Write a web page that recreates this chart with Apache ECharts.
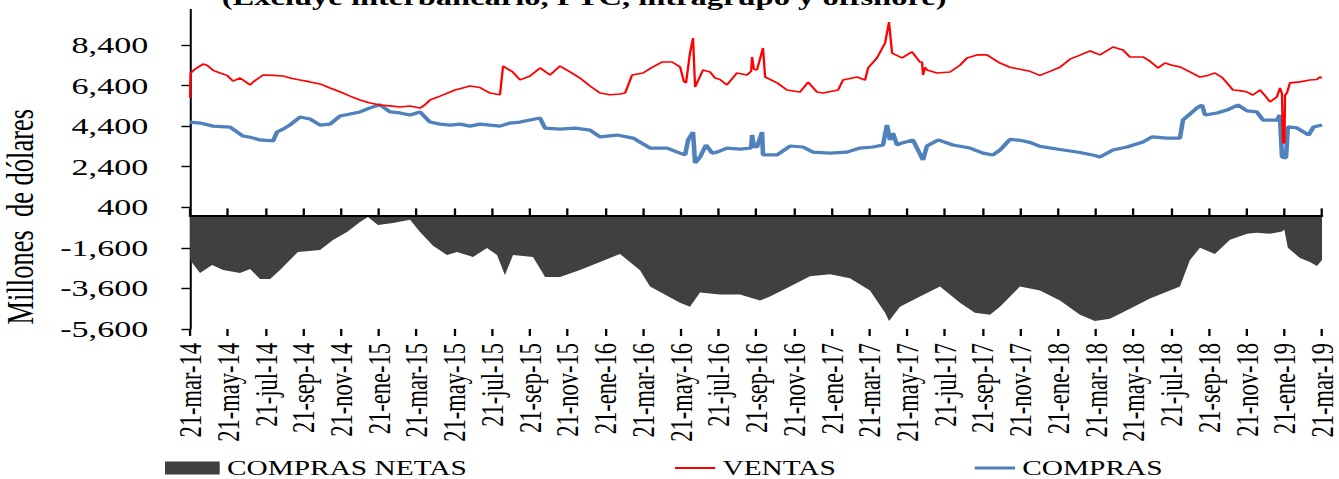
<!DOCTYPE html>
<html><head><meta charset="utf-8">
<script src="https://cdn.jsdelivr.net/npm/echarts@6/dist/echarts.min.js"></script>
<style>
html,body{margin:0;padding:0;background:#fff;overflow:hidden;}
#wrap{width:1339px;height:479px;overflow:hidden;position:relative;background:#fff;}
#chart{width:930px;height:479px;transform:scaleX(1.43978);transform-origin:0 0;}
</style></head><body>
<div id="wrap"><div id="chart"></div></div>
<script>
// ---- text ----
const titulo = '(Excluye interbancario, PTC, intragrupo y offshore)';
const ejeYNombre = 'Millones  de dólares';
const nombres = ['COMPRAS NETAS', 'VENTAS', 'COMPRAS'];
// x tick labels (every two months, x = months since 21-mar-14)
const etiquetasX = ['21-mar-14','21-may-14','21-jul-14','21-sep-14','21-nov-14','21-ene-15','21-mar-15','21-may-15','21-jul-15','21-sep-15','21-nov-15','21-ene-16','21-mar-16','21-may-16','21-jul-16','21-sep-16','21-nov-16','21-ene-17','21-mar-17','21-may-17','21-jul-17','21-sep-17','21-nov-17','21-ene-18','21-mar-18','21-may-18','21-jul-18','21-sep-18','21-nov-18','21-ene-19','21-mar-19'];
const yMin = -5600, yMax = 10400, yPaso = 2000;

// ---- data: [months since 21-mar-14, millions of USD] ----
const ventas = [[0,5800],[0.03,7020],[0.32,7250],[0.69,7460],[0.9,7400],[1.22,7150],[1.59,7020],[1.96,6900],[2.28,6620],[2.65,6770],[3.18,6430],[3.34,6570],[3.87,6920],[4.4,6900],[4.93,6870],[5.41,6750],[5.83,6670],[6.36,6580],[6.89,6480],[7.42,6280],[7.98,6080],[8.48,5880],[9.01,5690],[9.54,5540],[10.07,5440],[10.6,5400],[11.13,5340],[11.66,5390],[12.19,5290],[12.45,5450],[12.72,5690],[13.25,5880],[14.05,6180],[14.84,6380],[15.37,6300],[15.9,6030],[16.43,5950],[16.59,7360],[17.1,7070],[17.49,6680],[18.02,6870],[18.55,7270],[19.08,6920],[19.61,7360],[20.14,7070],[20.67,6770],[21.2,6380],[21.73,6030],[22.26,5950],[22.79,5985],[23.06,6030],[23.43,6920],[24.01,7020],[24.49,7300],[25.02,7560],[25.55,7560],[25.97,7320],[26.18,6600],[26.29,6530],[26.5,8000],[26.66,8740],[26.77,6330],[27.19,7170],[27.56,7070],[27.83,6770],[28.09,6700],[28.46,6430],[28.99,7020],[29.52,6920],[29.74,7100],[29.79,7810],[29.89,7200],[30.05,7170],[30.37,8250],[30.48,6820],[31.12,6530],[31.64,6180],[32.33,6080],[32.76,6570],[33.23,6080],[33.55,6030],[34.35,6180],[34.61,6670],[35.35,6820],[35.78,6670],[35.94,7270],[36.41,7760],[36.84,8500],[37.05,9530],[37.21,8000],[37.74,7760],[38.27,8060],[38.69,7560],[38.8,7560],[38.85,6920],[38.96,7300],[39.06,7170],[39.59,7020],[40.28,7070],[40.81,7400],[41.18,7760],[41.71,7910],[42.24,7910],[42.93,7510],[43.46,7300],[43.99,7200],[44.52,7100],[45.05,6900],[45.58,7100],[46.11,7300],[46.64,7700],[47.17,7900],[47.7,8100],[48.23,7910],[48.92,8300],[49.45,8150],[49.82,7810],[50.51,7810],[50.88,7600],[51.31,7270],[51.68,7510],[52.05,7400],[52.47,7320],[53.0,7070],[53.53,6820],[53.95,6900],[54.32,7020],[54.7,6800],[54.96,6530],[55.28,6180],[55.65,6150],[56.03,6080],[56.34,5935],[56.71,6180],[56.98,5900],[57.24,5590],[57.61,5840],[57.77,6280],[57.88,6000],[57.93,3570],[58.01,3570],[58.04,5930],[58.14,6030],[58.3,6530],[58.83,6580],[59.36,6670],[59.73,6700],[59.89,6820],[60,6780]];

const compras = [[0,4600],[0.53,4550],[1.22,4400],[2.12,4350],[2.81,3910],[3.18,3850],[3.71,3720],[4.4,3670],[4.61,4110],[4.93,4250],[5.3,4460],[5.83,4850],[6.36,4750],[6.89,4450],[7.42,4500],[7.95,4900],[8.48,5000],[9.01,5100],[9.54,5300],[10.07,5450],[10.6,5100],[11.13,5050],[11.66,4950],[12.19,5100],[12.72,4600],[13.25,4500],[13.78,4450],[14.31,4500],[14.84,4400],[15.37,4500],[15.9,4450],[16.43,4400],[16.96,4550],[17.49,4600],[18.02,4700],[18.55,4800],[18.82,4300],[19.61,4250],[20.41,4300],[21.2,4200],[21.73,3870],[22.63,3960],[23.48,3810],[24.38,3320],[25.28,3320],[25.97,3070],[26.24,2980],[26.4,3720],[26.66,4110],[26.77,2580],[27.03,2880],[27.35,3470],[27.67,3070],[27.93,3120],[28.46,3320],[29.15,3270],[29.74,3320],[29.79,3960],[29.89,3400],[30.05,3370],[30.32,4110],[30.37,2980],[31.12,2980],[31.8,3420],[32.49,3370],[33.02,3120],[33.92,3070],[34.82,3120],[35.51,3320],[36.2,3370],[36.73,3470],[36.94,4460],[37.1,3720],[37.26,4060],[37.47,3470],[37.74,3570],[38.32,3720],[38.53,3320],[38.85,2730],[39.06,3420],[39.65,3720],[40.44,3470],[41.34,3320],[42.03,3070],[42.56,2980],[42.93,3220],[43.46,3750],[43.99,3700],[44.52,3600],[45.05,3400],[46.11,3250],[47.17,3100],[47.96,2950],[48.23,2880],[48.92,3220],[49.66,3370],[50.51,3620],[50.99,3870],[51.78,3810],[52.47,3810],[52.63,4700],[53.37,5290],[53.64,5440],[53.8,4950],[54.44,5050],[54.96,5190],[55.54,5440],[56.03,5150],[56.55,5100],[56.87,4700],[57.61,4700],[57.77,4950],[57.88,2880],[58.09,2830],[58.19,4360],[58.67,4310],[59.29,3960],[59.55,4360],[60,4460]];

const netas = [[0,-2200],[0.53,-2840],[1.17,-2450],[1.75,-2690],[2.65,-2840],[3.18,-2640],[3.71,-3140],[4.24,-3140],[4.77,-2690],[5.72,-1800],[6.89,-1700],[7.58,-1210],[8.32,-820],[9.01,-320],[9.43,-80],[9.96,-470],[10.76,-370],[11.66,-220],[12.19,-820],[12.88,-1500],[13.62,-1950],[14.15,-1800],[15.0,-2050],[15.74,-1610],[16.27,-1950],[16.69,-2940],[17.12,-1950],[18.18,-2050],[18.82,-3040],[19.61,-3040],[20.67,-2690],[21.73,-2300],[22.79,-1900],[23.85,-2700],[24.38,-3500],[25.97,-4300],[26.5,-4500],[27.03,-3800],[28.09,-3900],[29.15,-3900],[30.21,-4200],[30.74,-4000],[31.8,-3500],[32.86,-3000],[33.92,-2900],[34.98,-3100],[36.04,-3700],[36.84,-4800],[37.05,-5200],[37.63,-4500],[38.69,-4000],[39.75,-3500],[40.81,-4300],[41.6,-4800],[42.4,-4900],[42.93,-4500],[43.99,-3500],[45.05,-3700],[46.11,-4200],[47.17,-4900],[47.96,-5200],[48.76,-5100],[49.82,-4600],[50.88,-4100],[51.94,-3700],[52.47,-3500],[53.0,-2200],[53.53,-1600],[54.32,-1900],[55.12,-1200],[56.03,-900],[56.55,-850],[57.24,-900],[57.88,-800],[58.0,-700],[58.19,-1600],[58.83,-2100],[59.36,-2300],[59.73,-2500],[60,-2200]];

// ---- chart ----
const chart = echarts.init(document.getElementById('chart'), null, {renderer: 'svg'});
const serif = 'Liberation Serif, Times New Roman, serif';
const fmtY = v => (v >= yMax ? '' : v.toLocaleString('en-US'));
const fmtX = v => { const i = Math.round(v / 2); return (Math.abs(v - i * 2) < 1e-6 && etiquetasX[i]) ? etiquetasX[i] : ''; };
const legendText = {fontFamily: serif, fontSize: 20.4, lineHeight: 16, color: '#000'};

chart.setOption({
  animation: false,
  backgroundColor: '#fff',
  title: {
    text: titulo, left: 116, top: -14, padding: [0, 4, 0, 38],
    backgroundColor: '#fff',
    textStyle: {fontFamily: serif, fontWeight: 'bold', fontSize: 22.6, color: '#000'}
  },
  grid: {left: 132, right: 11.8, top: 4.4, bottom: 150, containLabel: false, outerBoundsMode: 'none'},
  legend: [
    {data: [{name: nombres[0], icon: 'rect'}], left: 114.6, top: 458, padding: 0, itemWidth: 38, itemHeight: 13, textStyle: legendText},
    {data: [{name: nombres[1], icon: 'rect', itemStyle: {color: '#FF0000'}}], left: 468.8, top: 458, padding: 0, itemWidth: 28, itemHeight: 2, textStyle: legendText},
    {data: [{name: nombres[2], icon: 'rect', itemStyle: {color: '#4F81BD'}}], left: 677, top: 458, padding: 0, itemWidth: 28, itemHeight: 3, textStyle: legendText}
  ],
  xAxis: [
    {type: 'value', min: 0, max: 60, interval: 2, position: 'bottom', z: 5,
     axisLine: {show: true, onZero: true, lineStyle: {color: '#000', width: 2}},
     axisTick: {show: true, inside: true, length: 7, lineStyle: {color: '#000', width: 1.6}},
     axisLabel: {show: false}, splitLine: {show: false}},
    {type: 'value', min: 0, max: 60, interval: 2, position: 'bottom',
     axisLine: {show: false, onZero: false}, axisTick: {show: false}, splitLine: {show: false},
     axisLabel: {show: true, rotate: 90, margin: 14, formatter: fmtX,
                 fontFamily: serif, fontSize: 22.5, color: '#000'}},
    {type: 'value', min: 0, max: 60, interval: 2, position: 'bottom', z: 5,
     axisLine: {show: false, onZero: true},
     axisTick: {show: true, inside: false, length: 7, lineStyle: {color: '#000', width: 1.6}},
     axisLabel: {show: false}, splitLine: {show: false}}
  ],
  yAxis: {
    type: 'value', min: yMin, max: yMax, interval: yPaso,
    axisLine: {show: true, lineStyle: {color: '#000', width: 1.4}},
    axisTick: {show: true, inside: false, length: 6, lineStyle: {color: '#000', width: 1.4}},
    axisLabel: {formatter: fmtY, margin: 29, fontFamily: serif, fontSize: 23.7, color: '#000'},
    splitLine: {show: false},
    name: ejeYNombre, nameLocation: 'middle', nameGap: 105, nameRotate: 90,
    nameTextStyle: {fontFamily: serif, fontSize: 26.5, lineHeight: 26, color: '#000', padding: [0, 100, 0, 0]}
  },
  series: [
    {name: nombres[0], type: 'line', data: netas, xAxisIndex: 0, symbol: 'none', z: 1,
     itemStyle: {color: '#404040'}, lineStyle: {width: 0, color: '#404040'},
     areaStyle: {color: '#404040', opacity: 1}},
    {name: nombres[1], type: 'line', data: ventas, xAxisIndex: 0, symbol: 'none', z: 3,
     itemStyle: {color: '#FF0000'}, lineStyle: {width: 1.6, color: '#FF0000'}},
    {name: nombres[2], type: 'line', data: compras, xAxisIndex: 0, symbol: 'none', z: 2,
     itemStyle: {color: '#4F81BD'}, lineStyle: {width: 3.2, color: '#4F81BD'}}
  ]
});
</script>
</body></html>
